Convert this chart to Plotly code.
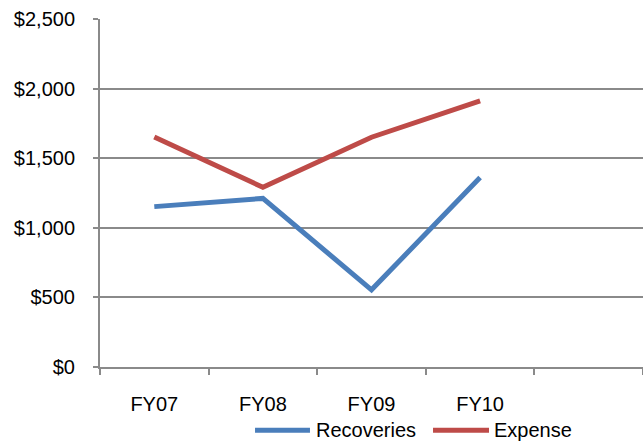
import plotly.graph_objects as go

# Fiscal years shown on the category axis (one spare slot on the right)
periods = ["FY07", "FY08", "FY09", "FY10"]
n_slots = 5

# Series values (dollars)
recoveries = [1153, 1212, 555, 1362]
expense = [1654, 1292, 1652, 1914]

# Y-axis ticks
y_ticks = [0, 500, 1000, 1500, 2000, 2500]
y_labels = ["$0", "$500", "$1,000", "$1,500", "$2,000", "$2,500"]

BLUE = "#4A7EBB"
RED = "#BE4B48"
GRID = "#8A8A8A"
FONT = "Liberation Sans, Arial, sans-serif"
FS = 20

x_idx = list(range(len(periods)))

fig = go.Figure()
fig.add_trace(go.Scatter(
    x=x_idx, y=recoveries, name="Recoveries", mode="lines",
    line=dict(color=BLUE, width=5),
))
fig.add_trace(go.Scatter(
    x=x_idx, y=expense, name="Expense", mode="lines",
    line=dict(color=RED, width=5),
))

# Legend drawn below the axis: line sample followed by its label
legend_items = [("Recoveries", BLUE, 0.2855, 0.3867, 0.3935),
                ("Expense", RED, 0.6133, 0.7164, 0.7215)]
legend_y = -0.182
for name, color, x0, x1, xt in legend_items:
    fig.add_shape(type="line", xref="paper", yref="paper",
                  x0=x0, x1=x1, y0=legend_y, y1=legend_y,
                  line=dict(color=color, width=5))
    fig.add_annotation(text=name, xref="paper", yref="paper",
                       x=xt, y=legend_y, xanchor="left", yanchor="middle",
                       showarrow=False,
                       font=dict(family=FONT, size=FS, color="black"))

fig.update_layout(
    width=643, height=446,
    margin=dict(l=100, r=0, t=19, b=78.5),
    paper_bgcolor="white", plot_bgcolor="white",
    font=dict(family=FONT, size=FS, color="black"),
    showlegend=False,
    xaxis=dict(
        range=[-0.5, n_slots - 0.5],
        tickmode="array", tickvals=x_idx, ticktext=periods,
        ticks="", showgrid=False, zeroline=False,
        showline=True, linecolor=GRID, linewidth=2,
        tickfont=dict(family=FONT, size=FS, color="black"),
        ticklabelstandoff=18,
        minor=dict(tick0=-0.5, dtick=1, ticks="outside", ticklen=6,
                   tickcolor=GRID, tickwidth=2, showgrid=False),
        fixedrange=True,
    ),
    yaxis=dict(
        range=[0, 2502],
        tickmode="array", tickvals=y_ticks, ticktext=y_labels,
        ticks="outside", ticklen=5, tickcolor=GRID, tickwidth=2,
        showgrid=True, gridcolor=GRID, gridwidth=2,
        zeroline=False,
        showline=True, linecolor=GRID, linewidth=2,
        tickfont=dict(family=FONT, size=FS, color="black"),
        ticklabelstandoff=14,
        fixedrange=True,
    ),
)

fig.write_html("out.html")
